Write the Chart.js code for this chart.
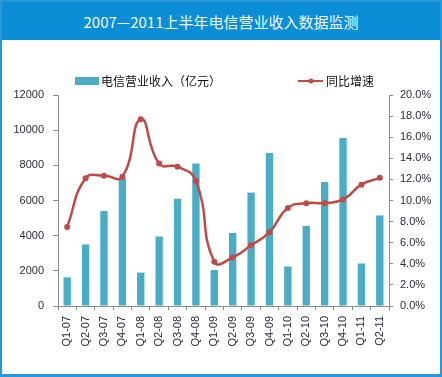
<!DOCTYPE html>
<html>
<head>
<meta charset="utf-8">
<script src="https://cdn.jsdelivr.net/npm/chart.js@4"></script>
<style>
    html, body { margin: 0; padding: 0; background: #fff; }
    #wrap { position: relative; width: 442px; height: 377px; overflow: hidden; }
    #chart { position: absolute; left: 0; top: 0; }
    #title {
        position: absolute; left: 0; top: 0; width: 442px; height: 40px;
        background: #0b8ed6; color: #f4f9fd; text-align: center;
        font: 15px "Noto Sans CJK SC", sans-serif; line-height: 43px;
    }
    #frame {
        position: absolute; left: 0; top: 0; width: 442px; height: 377px;
        box-sizing: border-box; border: 2px solid #2a98d8; border-bottom-width: 3px;
        pointer-events: none;
    }
</style>
</head>
<body>
<div id="wrap">
    <canvas id="chart" width="442" height="377"></canvas>
    <div id="title">2007—2011上半年电信营业收入数据监测</div>
    <div id="frame"></div>
</div>
<script>
var quarters = ['Q1-07', 'Q2-07', 'Q3-07', 'Q4-07', 'Q1-08', 'Q2-08', 'Q3-08', 'Q4-08', 'Q1-09',
    'Q2-09', 'Q3-09', 'Q4-09', 'Q1-10', 'Q2-10', 'Q3-10', 'Q4-10', 'Q1-11', 'Q2-11'];
var revenue = [1630, 3500, 5400, 7250, 1900, 3950, 6100, 8100, 2050,
    4150, 6450, 8700, 2250, 4550, 7050, 9550, 2420, 5150];
var growth = [7.5, 12.1, 12.35, 12.25, 17.7, 13.5, 13.2, 11.85, 4.2,
    4.6, 5.75, 7.0, 9.3, 9.75, 9.75, 10.1, 11.5, 12.15];

var barColor = '#4bacc6';
var lineColor = '#be4b48';
var axisColor = '#8c8c8c';
var tickFont = { family: '"Liberation Sans", Arial, sans-serif', size: 11 };
var textColor = '#2b2b3a';

// Legend drawn at fixed spots, like the Excel one
var fixedLegend = {
    id: 'fixedLegend',
    afterDraw: function(chart) {
        var ctx = chart.ctx;
        var ds = chart.data.datasets;
        var bar = ds[1], line = ds[0];
        ctx.save();
        ctx.font = '12px "Noto Sans CJK SC", sans-serif';
        ctx.textBaseline = 'middle';

        ctx.fillStyle = bar.backgroundColor;
        ctx.fillRect(75, 77, 24, 8);
        ctx.fillStyle = '#111';
        ctx.fillText(bar.label, 101, 81);

        ctx.strokeStyle = line.borderColor;
        ctx.lineWidth = 2;
        ctx.beginPath();
        ctx.moveTo(298, 81);
        ctx.lineTo(323, 81);
        ctx.stroke();
        ctx.fillStyle = line.borderColor;
        ctx.beginPath();
        ctx.arc(311, 81, 2.5, 0, Math.PI * 2);
        ctx.fill();
        ctx.fillStyle = '#111';
        ctx.fillText(line.label, 326, 81);
        ctx.restore();
    }
};

new Chart(document.getElementById('chart'), {
    data: {
        labels: quarters,
        datasets: [{
            type: 'line',
            label: '同比增速',
            data: growth,
            yAxisID: 'y1',
            borderColor: lineColor,
            backgroundColor: lineColor,
            borderWidth: 2.5,
            tension: 0.5,
            pointRadius: 3,
            pointBackgroundColor: lineColor,
            pointBorderWidth: 0
        }, {
            type: 'bar',
            label: '电信营业收入（亿元）',
            data: revenue,
            yAxisID: 'y',
            backgroundColor: barColor,
            barPercentage: 0.4,
            categoryPercentage: 1
        }]
    },
    options: {
        responsive: false,
        animation: false,
        layout: { padding: { top: 95, left: 0, right: 0, bottom: 0 } },
        plugins: {
            legend: { display: false },
            tooltip: { enabled: false }
        },
        scales: {
            x: {
                grid: { drawOnChartArea: false, tickLength: 4, color: axisColor, offset: true },
                border: { color: axisColor },
                ticks: {
                    autoSkip: false, minRotation: 90, maxRotation: 90,
                    padding: 6, color: textColor, font: tickFont
                },
                afterFit: function(s) { s.height = 71; }
            },
            y: {
                position: 'left',
                min: 0,
                max: 12000,
                grid: { drawOnChartArea: false, tickLength: 5, color: axisColor },
                border: { color: axisColor },
                ticks: {
                    stepSize: 2000, padding: 9, color: textColor, font: tickFont,
                    callback: function(v) { return String(v); }
                },
                afterFit: function(s) { s.width = 58; }
            },
            y1: {
                position: 'right',
                min: 0,
                max: 20,
                grid: { drawOnChartArea: false, tickLength: 4, color: axisColor },
                border: { color: axisColor },
                ticks: {
                    stepSize: 2, padding: 7, color: textColor, font: tickFont,
                    callback: function(v) { return v.toFixed(1) + '%'; }
                },
                afterFit: function(s) { s.width = 53; }
            }
        }
    },
    plugins: [fixedLegend]
});
</script>
</body>
</html>
